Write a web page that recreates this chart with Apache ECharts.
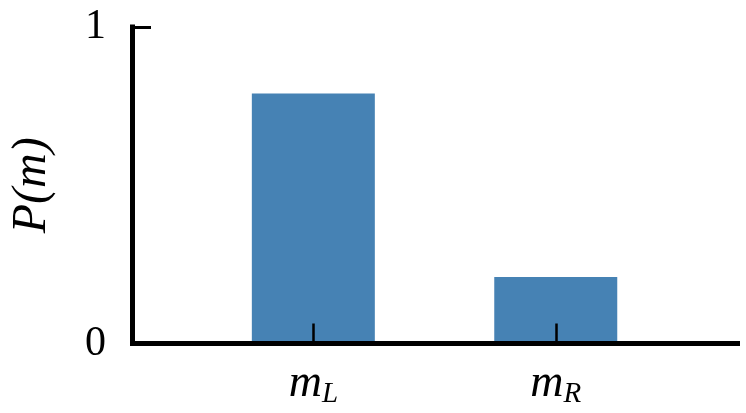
<!DOCTYPE html>
<html>
<head>
<meta charset="utf-8">
<script src="https://cdn.jsdelivr.net/npm/echarts@6/dist/echarts.min.js"></script>
<style>html,body{margin:0;padding:0;background:#fff}#c{width:746px;height:413px}</style>
</head>
<body>
<div id="c"></div>
<script>
const subscripts = ['L', 'R'];
const probabilities = [0.79, 0.21];

const serif = "Liberation Serif";
const chart = echarts.init(document.getElementById('c'), null, {renderer: 'canvas'});
const xTicks = subscripts.map((_, i) => i);

chart.setOption({
  animation: false,
  grid: {left: 125.5, right: 6, top: 27, bottom: 69.5, containLabel: false},
  xAxis: {
    type: 'value', min: -0.748, max: 1.76, z: 5,
    axisLine: {show: true, onZero: false, lineStyle: {color: '#000', width: 5, cap: 'butt'}},
    axisTick: {show: true, inside: true, length: 20, customValues: xTicks, lineStyle: {color: '#000', width: 2.5}},
    axisLabel: {
      customValues: xTicks, margin: 15,
      formatter: v => '{m|m}{s|' + subscripts[Math.round(v)] + '}',
      rich: {
        m: {fontFamily: serif, fontStyle: 'italic', fontSize: 46, lineHeight: 50, verticalAlign: 'middle', color: '#000'},
        s: {fontFamily: serif, fontStyle: 'italic', fontSize: 29, lineHeight: 29, verticalAlign: 'bottom', color: '#000'}
      }
    },
    splitLine: {show: false}
  },
  yAxis: {
    type: 'value', min: 0, max: 1, interval: 1, z: 5,
    name: 'P(m)', nameLocation: 'middle', nameGap: 76, nameRotate: 90,
    nameTextStyle: {fontFamily: serif, fontStyle: 'italic', fontSize: 48, color: '#000'},
    axisLine: {show: true, onZero: false, lineStyle: {color: '#000', width: 5, cap: 'square'}},
    axisTick: {show: true, inside: true, length: 19, lineStyle: {color: '#000', width: 3}},
    axisLabel: {margin: 26, fontFamily: serif, fontSize: 42, color: '#000'},
    splitLine: {show: false}
  },
  series: [{
    type: 'bar', barWidth: 123,
    itemStyle: {color: '#4682b4'},
    data: probabilities.map((p, i) => [i, p])
  }]
});
</script>
</body>
</html>
